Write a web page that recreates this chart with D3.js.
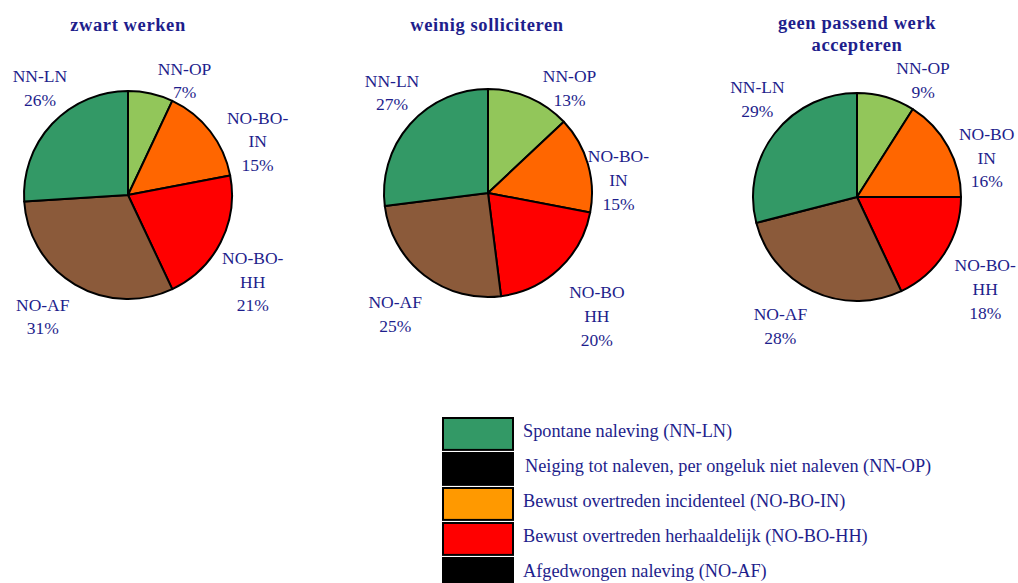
<!DOCTYPE html>
<html><head><meta charset="utf-8">
<script src="https://cdn.jsdelivr.net/npm/d3@7"></script>
<style>html,body{margin:0;padding:0;background:#fff;}</style>
</head><body>
<svg id="chart" width="1018" height="583"></svg>
<script>
// ---- data ----
const categories = ["NN-OP", "NO-BO-IN", "NO-BO-HH", "NO-AF", "NN-LN"];
const titles = [["zwart werken"], ["weinig solliciteren"], ["geen passend werk", "accepteren"]];
const valuesZwartWerken = [7, 15, 21, 31, 26];
const valuesWeinigSolliciteren = [13, 15, 20, 25, 27];
const valuesGeenPassendWerk = [9, 16, 18, 28, 29];
const labelNames1 = [["NN-OP"], ["NO-BO-", "IN"], ["NO-BO-", "HH"], ["NO-AF"], ["NN-LN"]];
const labelNames2 = [["NN-OP"], ["NO-BO-", "IN"], ["NO-BO", "HH"], ["NO-AF"], ["NN-LN"]];
const labelNames3 = [["NN-OP"], ["NO-BO", "IN"], ["NO-BO-", "HH"], ["NO-AF"], ["NN-LN"]];
const legendLabels = [
  "Spontane naleving (NN-LN)",
  "Neiging tot naleven, per ongeluk niet naleven (NN-OP)",
  "Bewust overtreden incidenteel (NO-BO-IN)",
  "Bewust overtreden herhaaldelijk (NO-BO-HH)",
  "Afgedwongen naleving (NO-AF)"
];

// ---- styles / layout ----
const sliceColors = {"NN-OP": "#92C65A", "NO-BO-IN": "#FF6600", "NO-BO-HH": "#FF0000", "NO-AF": "#8B5A3A", "NN-LN": "#339966"};
const legendColors = ["#339966", "#000000", "#FF9900", "#FF0000", "#000000"];
const textColor = "#1E1E8C";
const serif = "'Liberation Serif','Times New Roman',serif";

const pies = [
  {cx: 128, cy: 195, values: valuesZwartWerken, names: labelNames1, title: titles[0], tx: 128,
   nudges: [[26, 22], [19, 32], [0, 23], [-14, 1], [14, -11]]},
  {cx: 488, cy: 193, values: valuesWeinigSolliciteren, names: labelNames2, title: titles[1], tx: 487,
   nudges: [[26, 23], [-4, 26], [13, 21], [-7, 10], [9, -8]]},
  {cx: 857, cy: 197, values: valuesGeenPassendWerk, names: labelNames3, title: titles[2], tx: 857,
   nudges: [[27, 17], [7, 28], [10, 17], [-17, 2], [11, -12]]}
];
const R = 104, RL = 140, LH = 23.7;

const svg = d3.select("#chart");
const pieGen = d3.pie().sort(null).value(d => d.v);
const arc = d3.arc().innerRadius(0).outerRadius(R);
const labelArc = d3.arc().innerRadius(RL).outerRadius(RL);

pies.forEach(p => {
  const g = svg.append("g").attr("transform", `translate(${p.cx},${p.cy})`);
  const data = categories.map((c, i) => ({c, v: p.values[i], i}));
  const arcs = pieGen(data);
  g.selectAll("path").data(arcs).join("path")
    .attr("d", arc)
    .attr("fill", d => sliceColors[d.data.c])
    .attr("stroke", "#000").attr("stroke-width", 2).attr("stroke-linejoin", "round");

  arcs.forEach(d => {
    const [x, y] = labelArc.centroid(d);
    const nd = p.nudges[d.index];
    const lines = p.names[d.index].concat([d.data.v + "%"]);
    const t = g.append("text")
      .attr("text-anchor", "middle")
      .attr("font-family", serif).attr("font-size", 17.5)
      .attr("fill", textColor);
    lines.forEach((ln, k) => {
      t.append("tspan")
        .attr("x", x + nd[0])
        .attr("y", y + nd[1] + (k - (lines.length - 1) / 2) * LH)
        .attr("dy", "0.35em")
        .text(ln);
    });
  });

  const tt = svg.append("text").attr("text-anchor", "middle")
    .attr("font-family", serif).attr("font-size", 18.5).attr("font-weight", "bold")
    .attr("letter-spacing", 0.6).attr("fill", textColor);
  p.title.forEach((ln, k) => {
    tt.append("tspan").attr("x", p.tx).attr("y", (p.title.length > 1 ? 23 : 25) + k * 22)
      .attr("dy", "0.35em").text(ln);
  });
});

// ---- legend ----
const ly = d3.scaleBand().domain(d3.range(legendLabels.length)).range([417, 417 + 35 * 4.94]).paddingInner(0.06);
const lg = svg.append("g");
legendLabels.forEach((lbl, i) => {
  lg.append("rect").attr("x", 443).attr("y", ly(i) + 1).attr("width", 70).attr("height", ly.bandwidth() - 1)
    .attr("fill", legendColors[i]).attr("stroke", "#000").attr("stroke-width", 2);
  lg.append("text").attr("x", i === 1 ? 525 : 523).attr("y", ly(i) + 15).attr("dy", "0.3em")
    .attr("font-family", serif).attr("font-size", 18.3).attr("fill", textColor).text(lbl);
});
</script>
</body></html>
